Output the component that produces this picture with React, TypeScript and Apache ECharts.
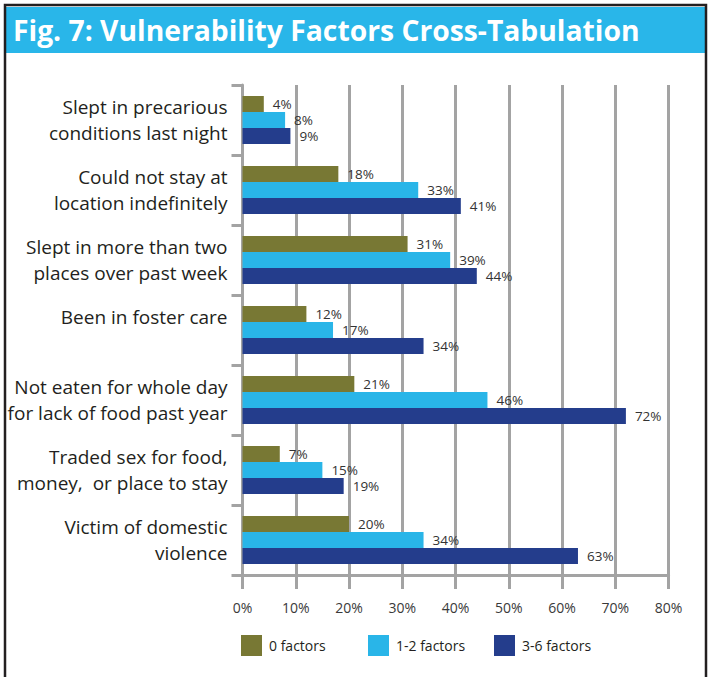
import React, { useEffect, useRef } from "react";
import * as echarts from "echarts";

const TITLE = "Fig. 7: Vulnerability Factors Cross-Tabulation";
const categories = [
  "Slept in precarious\nconditions last night",
  "Could not stay at\nlocation indefinitely",
  "Slept in more than two\nplaces over past week",
  "Been in foster care\n\u00a0",
  "Not eaten for whole day\nfor lack of food past year",
  "Traded sex for food,\nmoney,  or place to stay",
  "Victim of domestic\nviolence",
];
const seriesNames = ["0 factors", "1-2 factors", "3-6 factors"];
const factors0 = [4, 18, 31, 12, 21, 7, 20];
const factors12 = [8, 33, 39, 17, 46, 15, 34];
const factors36 = [9, 41, 44, 34, 72, 19, 63];
const colors = ["#787834", "#29b5e8", "#243d8c"];
const FONT = '"Open Sans", "Noto Sans", sans-serif';

export default function App() {
  const ref = useRef<HTMLDivElement>(null);
  useEffect(() => {
    if (!ref.current) return;
    const chart = echarts.init(ref.current, undefined, { renderer: "svg" });
    let scaleX = 0.8;
    try {
      const ctx = document.createElement("canvas").getContext("2d");
      if (ctx) {
        ctx.font = 'bold 28px "Open Sans"';
        const w = ctx.measureText(TITLE).width;
        if (w > 0) scaleX = 627 / w;
      }
    } catch (e) {}
    const data = [factors0, factors12, factors36];
    const gray = "#a3a3a3";
    chart.setOption({
      animation: false,
      backgroundColor: "#ffffff",
      textStyle: { fontFamily: FONT },
      graphic: [
        {
          type: "rect",
          shape: { x: 5, y: 5, width: 701, height: 700 },
          style: { fill: "none", stroke: "#231f20", lineWidth: 2.5 },
          z: 10,
        },
        {
          type: "rect",
          shape: { x: 6, y: 7, width: 699, height: 46 },
          style: { fill: "#29b6e9" },
        },
        {
          type: "text",
          x: 13,
          y: 30,
          scaleX: scaleX,
          style: {
            text: TITLE,
            fill: "#ffffff",
            font: 'bold 28px "Open Sans"',
            textVerticalAlign: "middle",
            verticalAlign: "middle",
          },
        },
      ],
      grid: { left: 242.5, right: 40.5, top: 85, bottom: 102, containLabel: false },
      xAxis: {
        type: "value",
        min: 0,
        max: 80,
        interval: 10,
        axisLine: { show: true, lineStyle: { color: gray, width: 3 } },
        axisTick: { show: true, length: 14, lineStyle: { color: gray, width: 3 } },
        splitLine: { show: true, lineStyle: { color: gray, width: 3 } },
        axisLabel: {
          formatter: "{value}%",
          fontSize: 14,
          color: "#3a3a3a",
          margin: 25,
          fontFamily: FONT,
        },
      },
      yAxis: {
        type: "category",
        inverse: true,
        data: categories,
        axisLine: { show: true, lineStyle: { color: gray, width: 3 } },
        axisTick: { show: true, length: 11, lineStyle: { color: gray, width: 3 } },
        axisLabel: {
          fontSize: 19,
          lineHeight: 26,
          color: "#231f20",
          margin: 15,
          fontFamily: FONT,
        },
      },
      legend: seriesNames.map((n, i) => ({
        data: [n],
        left: [241, 368, 494][i],
        top: 635,
        itemWidth: 21,
        itemHeight: 21,
        icon: "rect",
        padding: 0,
        textStyle: { fontSize: 14, color: "#231f20", fontFamily: FONT, padding: [0, 0, 0, 2] },
      })),
      series: seriesNames.map((n, i) => ({
        name: n,
        type: "bar",
        data: data[i],
        barWidth: 16,
        barGap: "0%",
        itemStyle: { color: colors[i] },
        label: {
          show: true,
          position: "right",
          distance: 9,
          formatter: "{c}%",
          fontSize: 13.5,
          lineHeight: 15,
          color: "#333333",
          fontFamily: FONT,
        },
      })),
    });
    return () => chart.dispose();
  }, []);
  return (
    <div
      ref={ref}
      style={{ position: "fixed", left: 0, top: 0, width: 709, height: 677, background: "#fff" }}
    />
  );
}
